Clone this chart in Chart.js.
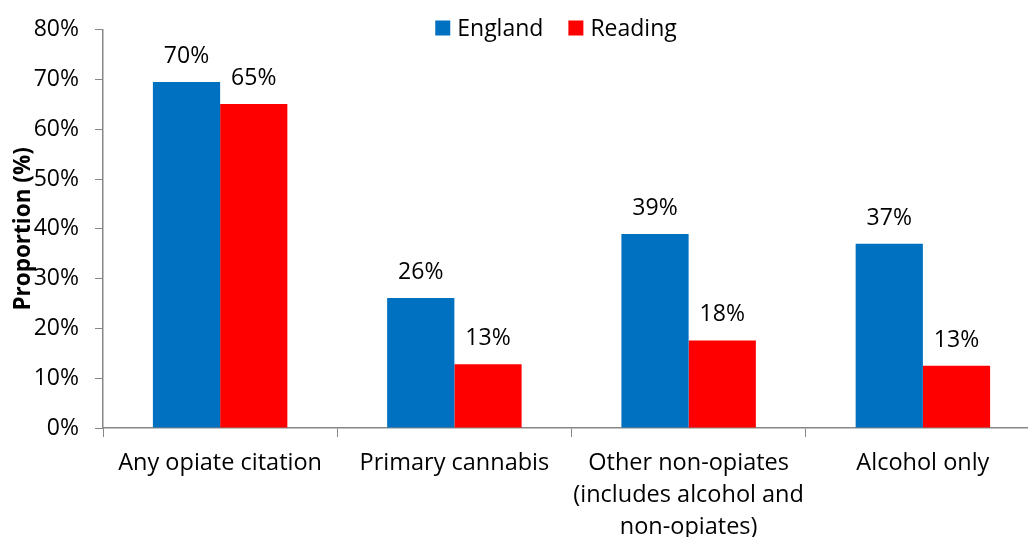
<!DOCTYPE html>
<html>
<head>
<meta charset="utf-8">
<script src="https://cdn.jsdelivr.net/npm/chart.js@4.4.1/dist/chart.umd.min.js"></script>
<style>
html, body { margin:0; padding:0; background:#fff; overflow:hidden; }
#wrap { width:1045px; height:545px; }
</style>
</head>
<body>
<div id="wrap"><canvas id="chart"></canvas></div>
<script>
// data
const categories = [
  'Any opiate citation',
  'Primary cannabis',
  ['Other non-opiates', '(includes alcohol and', 'non-opiates)'],
  'Alcohol only'
];
const englandValues = [69.5, 26.1, 39.0, 37.0];
const readingValues = [65.1, 12.8, 17.6, 12.5];
const seriesNames = ['England', 'Reading'];
const yMin = 0, yMax = 80, yStep = 10;

const FONT = "'Open Sans', sans-serif";
const AXIS_GREY = '#878787';

// value labels above each bar
const barValueLabels = {
  id: 'barValueLabels',
  afterDatasetsDraw(chart) {
    const ctx = chart.ctx;
    ctx.save();
    ctx.font = "23px " + FONT;
    ctx.fillStyle = '#000';
    ctx.textAlign = 'center';
    ctx.textBaseline = 'alphabetic';
    chart.data.datasets.forEach((ds, i) => {
      chart.getDatasetMeta(i).data.forEach((bar, j) => {
        ctx.fillText(Math.round(ds.data[j]) + '%', bar.x, bar.y - 19);
      });
    });
    ctx.restore();
  }
};

// legend sits over the top of the plot, like the original
const topLegend = {
  id: 'topLegend',
  afterDraw(chart) {
    const ctx = chart.ctx;
    const sets = chart.data.datasets;
    const box = 15, gap = 7, space = 25, cx = 556, cy = 28;
    ctx.save();
    ctx.font = "23px " + FONT;
    ctx.textBaseline = 'middle';
    const widths = sets.map(d => box + gap + ctx.measureText(d.label).width);
    const total = widths.reduce((a, b) => a + b, 0) + space * (sets.length - 1);
    let x = cx - total / 2;
    sets.forEach((d, i) => {
      ctx.fillStyle = d.backgroundColor;
      ctx.fillRect(x, cy - box / 2, box, box);
      ctx.fillStyle = '#000';
      ctx.fillText(d.label, x + box + gap, cy + 1);
      x += widths[i] + space;
    });
    ctx.restore();
  }
};

new Chart(document.getElementById('chart'), {
  type: 'bar',
  data: {
    labels: categories,
    datasets: [
      { label: seriesNames[0], data: englandValues, backgroundColor: '#0070C0', barPercentage: 1, categoryPercentage: 0.574 },
      { label: seriesNames[1], data: readingValues, backgroundColor: '#FF0000', barPercentage: 1, categoryPercentage: 0.574 }
    ]
  },
  options: {
    responsive: true,
    maintainAspectRatio: false,
    animation: false,
    layout: { padding: { top: 26, right: 5, left: 0, bottom: 0 } },
    plugins: { legend: { display: false }, tooltip: { enabled: false } },
    scales: {
      x: {
        grid: { drawOnChartArea: false, color: AXIS_GREY, tickLength: 9, tickWidth: 1 },
        border: { color: AXIS_GREY, width: 1.5 },
        ticks: { color: '#000', padding: 10, maxRotation: 0, autoSkip: false, font: { family: FONT, size: 23.5, lineHeight: 1.36 } },
        afterFit(scale) { scale.height = 117; }
      },
      y: {
        min: yMin, max: yMax,
        grid: { drawOnChartArea: false, color: AXIS_GREY, tickLength: 8, tickWidth: 1 },
        border: { color: AXIS_GREY, width: 1.5 },
        ticks: { stepSize: yStep, color: '#000', padding: 16, font: { family: FONT, size: 23 }, callback: v => v + '%' },
        title: { display: true, text: 'Proportion (%)', color: '#000', padding: { top: 10, bottom: 0 }, font: { family: FONT, size: 22.5, weight: 'bold' } },
        afterFit(scale) { scale.width = 103; }
      }
    }
  },
  plugins: [barValueLabels, topLegend]
});
</script>
</body>
</html>
